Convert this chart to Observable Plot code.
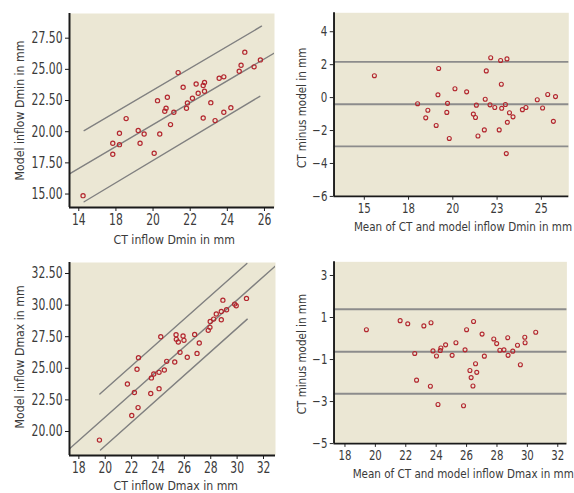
<!DOCTYPE html>
<html>
<head>
<meta charset="utf-8">
<script src="https://cdn.jsdelivr.net/npm/d3@7"></script>
<script src="https://cdn.jsdelivr.net/npm/@observablehq/plot@0.6"></script>
<style>
  html, body { margin: 0; padding: 0; background: #fff; }
  body { width: 574px; height: 493px; overflow: hidden; position: relative; }
  .panel { position: absolute; }
  .panel svg { overflow: visible; font-stretch: condensed; }
</style>
</head>
<body>
<div id="p1" class="panel" style="left:0px;top:0px"></div>
<div id="p2" class="panel" style="left:290px;top:0px"></div>
<div id="p3" class="panel" style="left:0px;top:250px"></div>
<div id="p4" class="panel" style="left:290px;top:250px"></div>
<script>
// ---------- Panel 1: CT vs model inflow Dmin ----------
const ctDmin = [16.23,17.83,17.83,18.19,18.19,18.55,19.20,19.30,19.52,20.06,20.24,20.36,20.63,20.70,20.77,20.94,21.12,21.35,21.62,21.80,21.85,22.12,22.32,22.43,22.70,22.70,22.77,22.77,23.11,23.34,23.56,23.81,23.81,24.19,24.64,24.74,24.94,25.44,25.78];
const modelDmin = [14.87,18.19,19.07,18.96,19.87,21.05,20.09,19.07,19.82,18.27,22.49,19.82,21.64,21.88,22.76,20.57,21.56,24.74,23.57,21.88,22.31,22.68,23.83,23.08,21.10,23.70,23.94,23.24,22.33,20.89,24.29,24.40,21.56,21.93,24.85,25.33,26.38,25.20,25.76];
// fitted line and prediction limits (end points)
const fit1X = [15.50, 26.54], fit1Y = [16.61, 26.32];
const upper1X = [16.29, 25.84], upper1Y = [20.09, 28.46];
const lower1X = [16.29, 25.75], lower1Y = [14.38, 22.84];
const xTicks1 = [16, 18, 20, 22, 24, 26];
const xTickLabels1 = ["14", "18", "20", "22", "24", "26"];
const yTicks1 = [15, 17.5, 20, 22.5, 25, 27.5];

// ---------- Panel 2: Bland-Altman Dmin ----------
const meanDmin = [15.57,18.01,18.59,18.47,19.06,19.20,19.16,19.70,19.66,19.80,20.12,20.78,21.16,21.28,21.33,21.42,21.78,21.83,21.89,22.10,22.14,22.37,22.62,22.70,22.74,22.76,22.97,23.06,23.02,23.08,23.20,23.40,23.93,24.13,24.77,25.07,25.36,25.68,25.80];
const diffDmin = [1.33,-0.37,-0.77,-1.23,-1.69,1.77,0.17,-0.35,-0.90,-2.48,0.54,0.35,-1.00,-1.21,-0.46,-2.33,-1.96,-0.10,1.62,-0.44,2.42,-0.60,-1.96,2.25,0.81,-0.65,-0.42,2.35,-3.40,-1.50,-0.92,-1.17,-0.73,-0.60,-0.13,-0.63,0.19,-1.44,0.06];
const limits2 = [2.17, -0.40, -2.96];
const xTicks2 = [15, 17.5, 20, 22.5, 25];
const xTickLabels2 = ["15", "18", "20", "23", "25"];
const yTicks2 = [-6, -4, -2, 0, 2, 4];

// ---------- Panel 3: CT vs model inflow Dmax ----------
const ctDmax = [19.56,21.68,22.01,22.21,22.41,22.52,22.49,23.45,23.50,23.68,24.08,24.08,24.21,24.48,24.66,25.27,25.37,25.39,25.54,25.67,25.90,25.97,26.22,26.78,26.96,27.13,27.81,27.94,27.96,28.22,28.42,28.80,28.80,28.92,29.20,29.81,29.93,30.71];
const modelDmax = [19.32,23.76,21.26,23.08,24.92,25.84,21.89,23.00,24.24,24.55,24.68,23.39,27.50,24.87,25.55,25.50,27.66,27.29,27.08,26.26,27.55,27.21,25.87,27.68,26.18,27.00,28.00,28.24,28.71,28.89,29.29,28.84,29.50,30.39,29.63,30.08,29.95,30.53];
const fit3X = [17.29, 32.91], fit3Y = [18.63, 33.10];
const upper3X = [19.59, 30.74], upper3Y = [22.97, 33.29];
const lower3X = [19.64, 30.77], lower3Y = [18.53, 28.89];
const xTicks3 = [18, 20, 22, 24, 26, 28, 30, 32];
const yTicks3 = [20, 22.5, 25, 27.5, 30, 32.5];

// ---------- Panel 4: Bland-Altman Dmax ----------
const meanDmax = [19.41,21.63,22.13,22.59,22.71,23.19,23.62,23.66,23.79,24.02,24.12,24.27,24.31,24.62,25.05,25.30,25.80,25.90,26.00,26.22,26.30,26.42,26.46,26.59,26.67,27.02,27.17,27.79,27.98,28.19,28.46,28.71,28.73,29.04,29.35,29.54,29.83,29.85,30.55];
const diffDmax = [0.42,0.85,0.70,-0.71,-1.98,0.60,-2.27,0.75,-0.59,-0.83,-3.14,-0.57,-0.45,-0.30,-0.80,-0.20,-3.20,-0.54,0.42,-1.52,-1.86,-2.26,0.81,-1.20,-1.61,0.21,-0.84,-0.02,-0.24,-0.56,-0.54,0.04,-0.80,-0.60,-0.32,-1.25,0.06,-0.20,0.30];
const limits4 = [1.39, -0.63, -2.63];
const xTicks4 = [18, 20, 22, 24, 26, 28, 30, 32];
const yTicks4 = [-5, -3, -1, 1, 3];

// ---------- styles ----------
const BG = "#ebe7d4";
const DOT = "#b3272f";
const LINE = "#808080";
const HLINE = "#8c8c8c";
const AXIS = "#1a1a1a";
const FONT = "'DejaVu Sans', sans-serif";
const NARROW = 0.8; // horizontal squeeze of tick labels to imitate the narrow typeface
const LABEL_SIZE = 12.2;
const style = {fontFamily: FONT, fontSize: "15px", color: "#3a3a3a", background: "transparent", overflow: "visible"};

const minus = s => String(s).replace("-", "\u2212");

function seg(xs, ys) { return xs.map((x, i) => ({x, y: ys[i]})); }

function scatterPanel(o) {
  const pts = o.xs.map((x, i) => ({x, y: o.ys[i]}));
  return Plot.plot({
    width: o.width, height: o.height,
    marginLeft: o.ml, marginRight: o.mr, marginTop: o.mt, marginBottom: o.mb,
    style,
    x: {domain: o.xDomain},
    y: {domain: o.yDomain},
    marks: [
      Plot.frame({fill: BG, stroke: "none"}),
      ...(o.lines || []).map(l => Plot.line(l.data, {x: "x", y: "y", stroke: LINE, strokeWidth: 1.4, clip: true})),
      ...(o.hlines ? [Plot.ruleY(o.hlines, {stroke: HLINE, strokeWidth: 2})] : []),
      Plot.dot(pts, {x: "x", y: "y", r: 2.1, stroke: DOT, strokeWidth: 1.2, fill: "none"}),
      Plot.axisX({ticks: o.xTicks, tickFormat: o.xFmt, tickSize: 4, tickPadding: 3, stroke: AXIS, label: null}),
      Plot.axisY({ticks: o.yTicks, tickFormat: o.yFmt, tickSize: 4, tickPadding: 3, stroke: AXIS, label: null}),
      Plot.ruleX([o.xDomain[0]], {stroke: AXIS, strokeWidth: 2}),
      Plot.ruleY([o.yDomain[0]], {stroke: AXIS, strokeWidth: 2}),
      Plot.text([o.xLabel], {text: d => d, frameAnchor: "bottom", dx: o.xLabelDx, dy: o.xLabelDy,
                             lineAnchor: "middle", textAnchor: "start", fontSize: LABEL_SIZE}),
      Plot.text([o.yLabel], {text: d => d, frameAnchor: "left", rotate: -90, dx: o.yLabelDx, dy: o.yLabelDy,
                             lineAnchor: "middle", textAnchor: "start", fontSize: LABEL_SIZE})
    ]
  });
}

function mount(id, svg) {
  document.getElementById(id).append(svg);
  // squeeze tick labels horizontally (narrow typeface look)
  svg.querySelectorAll('g[aria-label$="tick label"] text').forEach(t => {
    const w = t.getComputedTextLength();
    t.setAttribute("textLength", (w * NARROW).toFixed(1));
    t.setAttribute("lengthAdjust", "spacingAndGlyphs");
  });
}

mount("p1", scatterPanel({
  width: 285, height: 250, ml: 69, mr: 11, mt: 13, mb: 43,
  xs: ctDmin, ys: modelDmin,
  xDomain: [15.50, 26.54], yDomain: [13.92, 29.48],
  xTicks: xTicks1, xFmt: d => xTickLabels1[xTicks1.indexOf(d)],
  yTicks: yTicks1, yFmt: d => d.toFixed(2),
  xLabel: "CT inflow Dmin in mm", yLabel: "Model inflow Dmin in mm",
  xLabelDx: -58.5, xLabelDy: 33, yLabelDx: -49, yLabelDy: 70,
  lines: [{data: seg(fit1X, fit1Y)}, {data: seg(upper1X, upper1Y)}, {data: seg(lower1X, lower1Y)}]
}));

mount("p2", scatterPanel({
  width: 300, height: 250, ml: 46, mr: 6, mt: 13, mb: 43,
  xs: meanDmin, ys: diffDmin,
  xDomain: [13.29, 26.55], yDomain: [-6, 5.15],
  xTicks: xTicks2, xFmt: d => xTickLabels2[xTicks2.indexOf(d)],
  yTicks: yTicks2, yFmt: d => minus(d),
  xLabel: "Mean of CT and model inflow Dmin in mm", yLabel: "CT minus model in mm",
  xLabelDx: -103, xLabelDy: 33, yLabelDx: -33, yLabelDy: 67,
  hlines: limits2
}));

mount("p3", scatterPanel({
  width: 285, height: 243, ml: 69, mr: 10, mt: 12, mb: 38,
  xs: ctDmax, ys: modelDmax,
  xDomain: [17.29, 32.91], yDomain: [18.1, 33.37],
  xTicks: xTicks3, xFmt: d => String(d),
  yTicks: yTicks3, yFmt: d => d.toFixed(2),
  xLabel: "CT inflow Dmax in mm", yLabel: "Model inflow Dmax in mm",
  xLabelDx: -59, xLabelDy: 31, yLabelDx: -49, yLabelDy: 69.5,
  lines: [{data: seg(fit3X, fit3Y)}, {data: seg(upper3X, upper3Y)}, {data: seg(lower3X, lower3Y)}]
}));

mount("p4", scatterPanel({
  width: 300, height: 243, ml: 46, mr: 8, mt: 12, mb: 39,
  xs: meanDmax, ys: diffDmax,
  xDomain: [17.28, 32.6], yDomain: [-5, 3.65],
  xTicks: xTicks4, xFmt: d => String(d),
  yTicks: yTicks4, yFmt: d => minus(d),
  xLabel: "Mean of CT and model inflow Dmax in mm", yLabel: "CT minus model in mm",
  xLabelDx: -103.3, xLabelDy: 32, yLabelDx: -34, yLabelDy: 65,
  hlines: limits4
}));
</script>
</body>
</html>
